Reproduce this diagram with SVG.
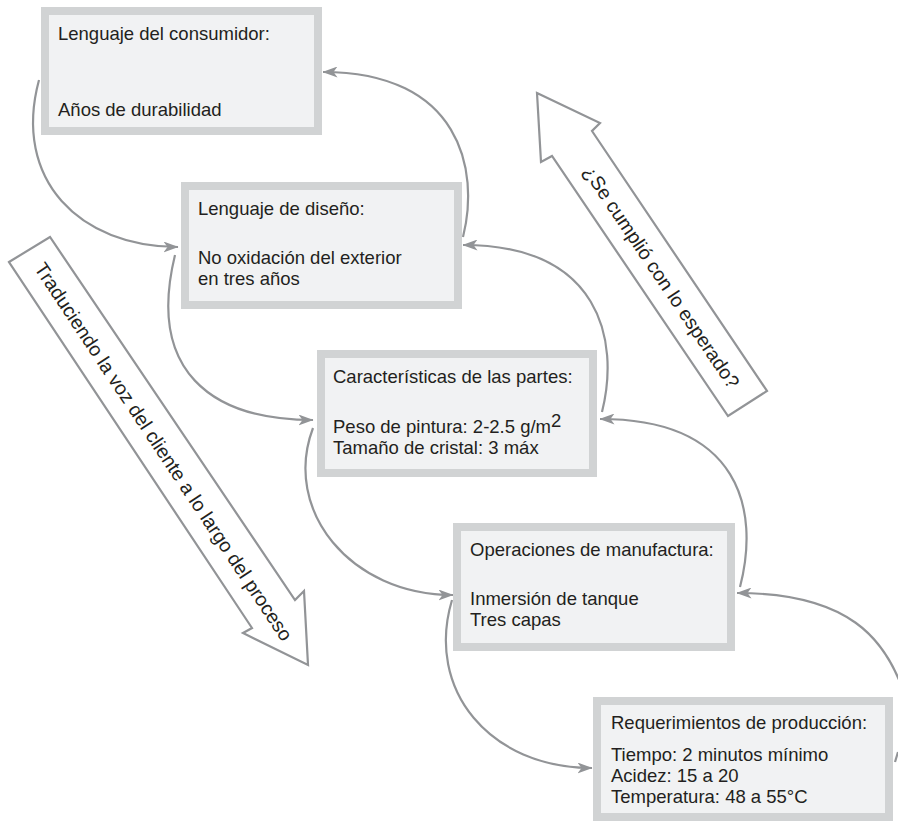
<svg xmlns="http://www.w3.org/2000/svg" width="898" height="823" viewBox="0 0 898 823">
<style>
.box{fill:#f1f2f3;stroke:#d1d3d4;stroke-width:8}
.t{font-family:"Liberation Sans","Open Sans",sans-serif;font-size:18.5px;fill:#231f20}
.a{font-family:"Liberation Sans","Open Sans",sans-serif;font-size:19.5px;fill:#231f20}
.con{fill:none;stroke:#929497;stroke-width:2.2}
.big{fill:#ffffff;stroke:#929497;stroke-width:2.2;stroke-linejoin:miter}
</style>
<defs>
<marker id="ah" markerUnits="userSpaceOnUse" viewBox="0 0 15 11" refX="14.5" refY="5.5" markerWidth="15" markerHeight="11" orient="auto">
<path d="M0,0 L15,5.5 L0,11 L4,5.5 Z" fill="#929497"/>
</marker>
</defs>
<rect width="898" height="823" fill="#ffffff"/>

<g id="arrow-traduciendo">
<polygon class="big" points="9,262 50,237 295,600 304,591 308,665 243,633 252,628"/>
<g transform="translate(29.5,249.5) rotate(56.4)">
<text class="a" x="18" y="7">Traduciendo la voz del cliente a lo largo del proceso</text>
</g>
</g>

<g id="arrow-cumplio">
<polygon class="big" points="537,93 600,123 592,131 767,391 728,416 552,156 541,162"/>
<g transform="translate(572,143.5) rotate(56.1)">
<text class="a" x="29" y="7">¿Se cumplió con lo esperado?</text>
</g>
</g>

<g id="connectors">
<path class="con" d="M39,80 C12,180 80,247 178,247" marker-end="url(#ah)"/>
<path class="con" d="M175,255 C147,370 210,420 313,420" marker-end="url(#ah)"/>
<path class="con" d="M313,428 C282,510 350,595 453,595" marker-end="url(#ah)"/>
<path class="con" d="M452,600 C425,690 490,768 592,768" marker-end="url(#ah)"/>
<path class="con" d="M463,237 C480,170 460,72 323,72" marker-end="url(#ah)"/>
<path class="con" d="M602,412 C620,340 600,245 463,245" marker-end="url(#ah)"/>
<path class="con" d="M740,587 C760,510 740,419 600,419" marker-end="url(#ah)"/>
<path class="con" d="M903,690 C885,640 850,593 737,593" marker-end="url(#ah)"/>
<path class="con" d="M895,762 L898,752"/>
</g>

<g id="n1">
<rect class="box" x="45" y="11" width="273" height="120"/>
<text class="t" x="58" y="40">Lenguaje del consumidor:</text>
<text class="t" x="58" y="116">Años de durabilidad</text>
</g>

<g id="n2">
<rect class="box" x="185" y="186" width="273" height="119"/>
<text class="t" x="198" y="215">Lenguaje de diseño:</text>
<text class="t" x="198" y="264">No oxidación del exterior</text>
<text class="t" x="198" y="285">en tres años</text>
</g>

<g id="n3">
<rect class="box" x="321" y="354" width="272" height="119"/>
<text class="t" x="333" y="383">Características de las partes:</text>
<text class="t" x="333" y="433">Peso de pintura: 2-2.5 g/m<tspan dy="-6">2</tspan></text>
<text class="t" x="333" y="454">Tamaño de cristal: 3 máx</text>
</g>

<g id="n4">
<rect class="box" x="457" y="527" width="274" height="120"/>
<text class="t" x="470" y="556">Operaciones de manufactura:</text>
<text class="t" x="470" y="605">Inmersión de tanque</text>
<text class="t" x="470" y="626">Tres capas</text>
</g>

<g id="n5">
<rect class="box" x="597" y="701" width="292" height="116"/>
<text class="t" x="611" y="729">Requerimientos de producción:</text>
<text class="t" x="611" y="761">Tiempo: 2 minutos mínimo</text>
<text class="t" x="611" y="782">Acidez: 15 a 20</text>
<text class="t" x="611" y="803">Temperatura: 48 a 55°C</text>
</g>
</svg>
